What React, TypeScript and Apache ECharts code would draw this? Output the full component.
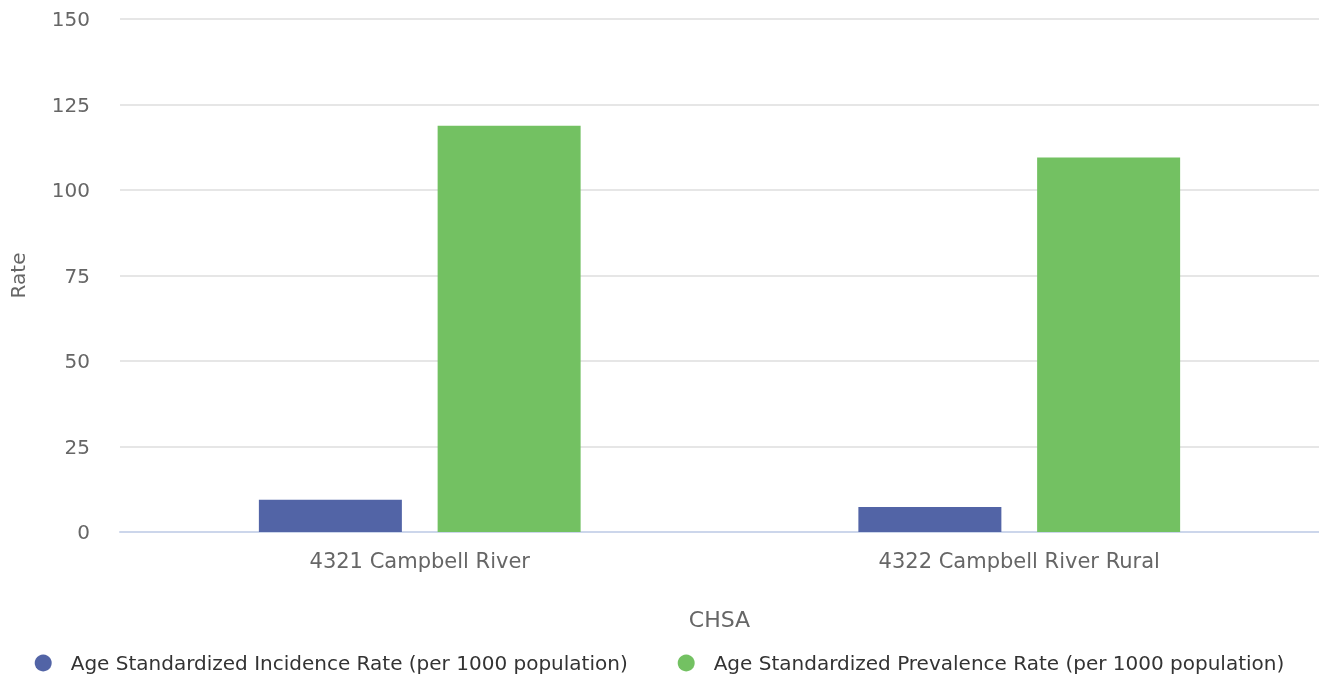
import React, { useEffect, useRef } from "react";
import * as echarts from "echarts";

const categories = ["4321 Campbell River", "4322 Campbell River Rural"];
const incidence = [9.4, 7.3];
const prevalence = [118.8, 109.5];
const seriesNames = [
  "Age Standardized Incidence Rate (per 1000 population)",
  "Age Standardized Prevalence Rate (per 1000 population)",
];
const yTicks = { min: 0, max: 150, interval: 25 };

export default function App() {
  const ref = useRef<HTMLDivElement>(null);
  useEffect(() => {
    const chart = echarts.init(ref.current!, null, { renderer: "svg" });
    const font = "DejaVu Sans, Verdana, sans-serif";
    chart.setOption({
      animation: false,
      textStyle: { fontFamily: font },
      grid: { left: 120, right: 0, top: 19, bottom: 145, containLabel: false },
      legend: {
        bottom: -1,
        left: "center",
        icon: "circle",
        itemWidth: 17,
        itemHeight: 17,
        itemGap: 50,
        textStyle: { fontSize: 20, color: "#333", fontFamily: font, padding: [0, 0, 0, 14] },
        data: seriesNames,
      },
      xAxis: {
        type: "category",
        data: categories,
        name: "CHSA",
        nameLocation: "middle",
        nameGap: 76,
        nameTextStyle: { fontSize: 22, color: "#666", fontFamily: font },
        axisLine: { lineStyle: { color: "#ccd6eb", width: 2 } },
        axisTick: { show: false },
        axisLabel: { fontSize: 21, color: "#666", margin: 18, fontFamily: font },
      },
      yAxis: {
        type: "value",
        min: yTicks.min,
        max: yTicks.max,
        interval: yTicks.interval,
        name: "Rate",
        nameLocation: "middle",
        nameGap: 92,
        nameTextStyle: { fontSize: 20, color: "#666", fontFamily: font },
        axisLine: { show: false },
        axisTick: { show: false },
        splitLine: { lineStyle: { color: "#e6e6e6", width: 2 } },
        axisLabel: { fontSize: 20, color: "#666", margin: 30, fontFamily: font },
      },
      series: [
        {
          name: seriesNames[0],
          type: "bar",
          data: incidence,
          barWidth: 143,
          barGap: "25%",
          itemStyle: { color: "#5264a6" },
        },
        {
          name: seriesNames[1],
          type: "bar",
          data: prevalence,
          barWidth: 143,
          barGap: "25%",
          itemStyle: { color: "#73c162" },
        },
      ],
    });
    return () => chart.dispose();
  }, []);
  return (
    <div
      ref={ref}
      style={{ position: "fixed", left: 0, top: 0, width: 1319, height: 677 }}
    />
  );
}
